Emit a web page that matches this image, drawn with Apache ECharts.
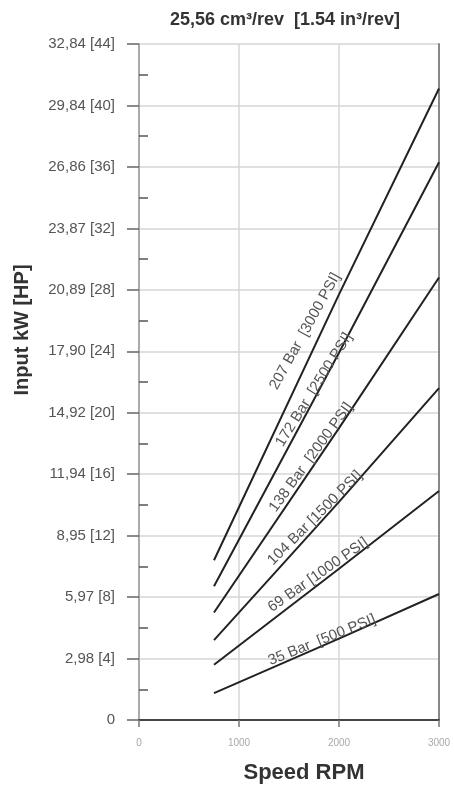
<!DOCTYPE html>
<html>
<head>
<meta charset="utf-8">
<script src="https://cdn.jsdelivr.net/npm/echarts@6/dist/echarts.min.js"></script>
<style>
html,body{margin:0;padding:0;background:#fff;}
#c{width:454px;height:787px;}
</style>
</head>
<body>
<div id="c"></div>
<script>
// ---- data ----
var titleText = '25,56 cm\u00B3/rev  [1.54 in\u00B3/rev]';
var yName = 'Input kW [HP]';
var xName = 'Speed RPM';
var yTickLabels = ['0','2,98 [4]','5,97 [8]','8,95 [12]','11,94 [16]','14,92 [20]','17,90 [24]','20,89 [28]','23,87 [32]','26,86 [36]','29,84 [40]','32,84 [44]'];
var xTickLabels = ['0','1000','2000','3000'];
var rpm = [750, 2000, 3000];
var hp207 = [10.4, 27.7, 41.1];
var hp172 = [8.7, 23.9, 36.3];
var hp138 = [7.0, 19.0, 28.8];
var hp104 = [5.2, 14.2, 21.6];
var hp69  = [3.6, 9.85, 14.9];
var hp35  = [1.75, 5.3, 8.2];
var seriesNames = ['207 Bar  [3000 PSI]','172 Bar  [2500 PSI]','138 Bar  [2000 PSI]','104 Bar [1500 PSI]','69 Bar [1000 PSI]','35 Bar  [500 PSI]'];
var seriesValues = [hp207, hp172, hp138, hp104, hp69, hp35];
// label anchors (data coords) and angles
var labelAt = [[1660,25.3],[1750,21.5],[1720,17.1],[1760,13.15],[1790,9.44],[1830,5.2]];
var labelRot = [61,58,54,45,35,22];

var chart = echarts.init(document.getElementById('c'));
var FONT = '"Liberation Sans", Arial, sans-serif';

var series = seriesValues.map(function(vals, i){
  return {
    type:'line', name: seriesNames[i], xAxisIndex:0, yAxisIndex:0,
    data: rpm.map(function(r,j){return [r, vals[j]];}),
    showSymbol:false, symbol:'none', smooth:false,
    lineStyle:{color:'#222', width:2},
    silent:true,
    markPoint:{
      symbol:'circle', symbolSize:0, silent:true,
      data:[{coord: labelAt[i], value: seriesNames[i]}],
      label:{show:true, position:'inside', formatter: seriesNames[i], rotate: labelRot[i],
        color:'#555', fontSize:15, fontFamily:FONT}
    }
  };
});

chart.setOption({
  animation:false,
  backgroundColor:'#fff',
  title:{text:titleText, left:280, top:6, textAlign:'center',
    textStyle:{fontFamily:FONT, fontWeight:'bold', fontSize:18, color:'#333'}},
  grid:{left:139, right:15, top:44, bottom:67, containLabel:false},
  xAxis:[{
    type:'value', min:0, max:3000, interval:1000,
    axisLine:{show:true, lineStyle:{color:'#444', width:2}},
    axisTick:{show:true, length:7, lineStyle:{color:'#777', width:1.5}},
    axisLabel:{margin:18, fontSize:10, color:'#aaa', fontFamily:FONT,
      formatter:function(v){return xTickLabels[Math.round(v/1000)];}},
    splitLine:{show:true, lineStyle:{color:'#d6d6d6', width:1.5}}
  }],
  yAxis:[{
    type:'value', min:0, max:44, interval:4, position:'left',
    axisLine:{show:true, lineStyle:{color:'#999', width:1.5}},
    axisTick:{show:true, inside:false, length:12, lineStyle:{color:'#666', width:1.5}},
    axisLabel:{margin:24, fontSize:15, color:'#555', fontFamily:FONT,
      formatter:function(v){return yTickLabels[Math.round(v/4)];}},
    splitLine:{show:true, lineStyle:{color:'#d6d6d6', width:1.5}}
  },{
    type:'value', min:0, max:44, interval:4, position:'left',
    axisLine:{show:false}, axisLabel:{show:false}, splitLine:{show:false},
    axisTick:{show:false, inside:true},
    minorTick:{show:true, splitNumber:2, length:9, lineStyle:{color:'#555', width:1.5}}
  },{
    type:'value', min:0, max:44, interval:4, position:'right',
    axisLine:{show:true, lineStyle:{color:'#888', width:2}},
    axisTick:{show:false}, axisLabel:{show:false}, splitLine:{show:false}
  }],
  graphic:[
    {type:'text', x:22, y:330, rotation:Math.PI/2,
      style:{text:yName, fontFamily:FONT, fontWeight:'bold', fontSize:20, fill:'#333',
        textAlign:'center', textVerticalAlign:'middle'}},
    {type:'text', x:304, y:773,
      style:{text:xName, fontFamily:FONT, fontWeight:'bold', fontSize:22, fill:'#333',
        textAlign:'center', textVerticalAlign:'middle'}}
  ],
  series: series
});
</script>
</body>
</html>
